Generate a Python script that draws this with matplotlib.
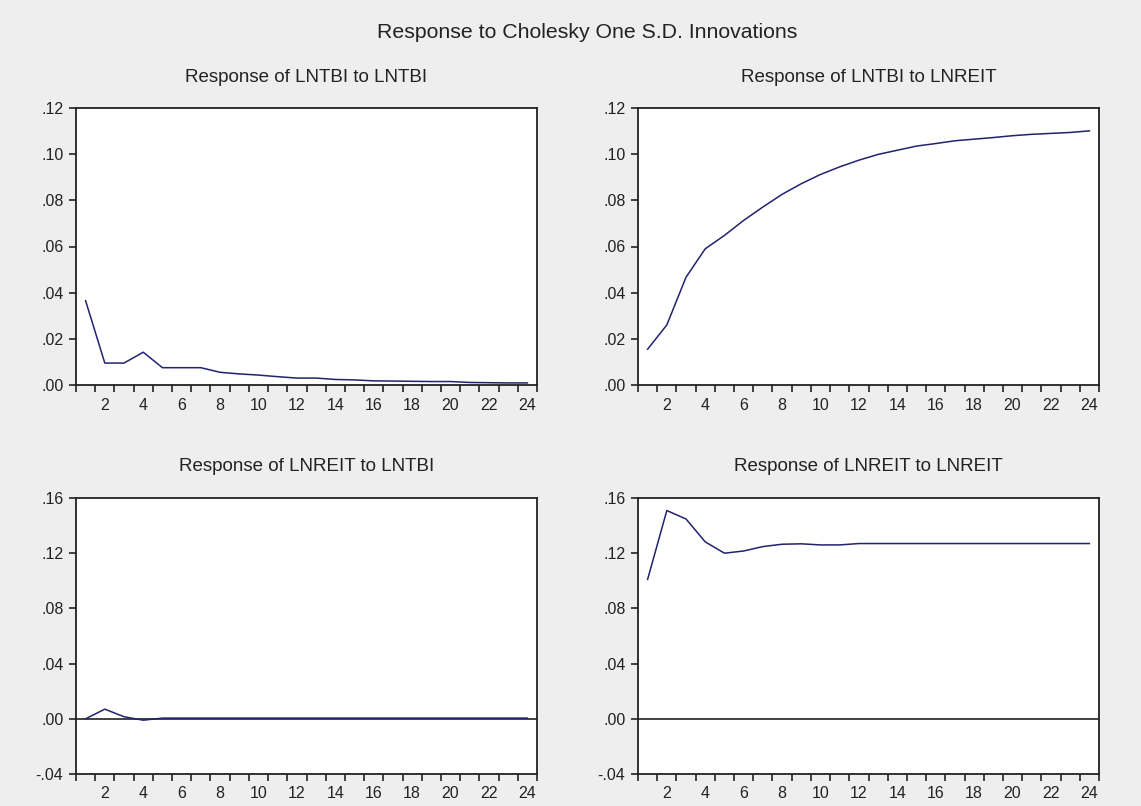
import matplotlib
matplotlib.use("Agg")
import matplotlib.pyplot as plt
from matplotlib.ticker import FixedLocator, FuncFormatter

plt.rcParams['font.family'] = ['Liberation Sans', 'DejaVu Sans']

periods = list(range(1, 25))

# responses
tbi_to_tbi = [0.0365, 0.0095, 0.0095, 0.0142, 0.0075, 0.0075, 0.0075, 0.0055,
              0.0048, 0.0043, 0.0036, 0.0030, 0.0030, 0.0024, 0.0022, 0.0018,
              0.0017, 0.0016, 0.0015, 0.0015, 0.0011, 0.0010, 0.0009, 0.0009]
tbi_to_reit = [0.0155, 0.0260, 0.0467, 0.0590, 0.0648, 0.0713, 0.0771, 0.0826,
               0.0872, 0.0912, 0.0945, 0.0974, 0.0999, 0.1017, 0.1035, 0.1046,
               0.1058, 0.1065, 0.1072, 0.1080, 0.1086, 0.1090, 0.1094, 0.1101]
reit_to_tbi = [0.0000, 0.0070, 0.0015, -0.0010, 0.0005, 0.0005, 0.0005, 0.0005,
               0.0005, 0.0005, 0.0005, 0.0005, 0.0005, 0.0005, 0.0005, 0.0005,
               0.0005, 0.0005, 0.0005, 0.0005, 0.0005, 0.0005, 0.0005, 0.0005]
reit_to_reit = [0.1010, 0.1509, 0.1448, 0.1282, 0.1200, 0.1216, 0.1248, 0.1265,
                0.1268, 0.1260, 0.1260, 0.1270, 0.1270, 0.1270, 0.1270, 0.1270,
                0.1270, 0.1270, 0.1270, 0.1270, 0.1270, 0.1270, 0.1270, 0.1270]

titles = ["Response of LNTBI to LNTBI", "Response of LNTBI to LNREIT",
          "Response of LNREIT to LNTBI", "Response of LNREIT to LNREIT"]
series = [tbi_to_tbi, tbi_to_reit, reit_to_tbi, reit_to_reit]
ylims = [(0, 0.12), (0, 0.12), (-0.04, 0.16), (-0.04, 0.16)]
yticks = [[0, 0.02, 0.04, 0.06, 0.08, 0.10, 0.12],
          [0, 0.02, 0.04, 0.06, 0.08, 0.10, 0.12],
          [-0.04, 0, 0.04, 0.08, 0.12, 0.16],
          [-0.04, 0, 0.04, 0.08, 0.12, 0.16]]
xlabels = list(range(2, 25, 2))

W, H = 1141, 806
fig = plt.figure(figsize=(W / 100, H / 100), dpi=100, facecolor='#eeeeee')

# pixel boxes of the four panels: left, right, top, bottom
boxes = [(76, 537, 108, 385), (638, 1099, 108, 385),
         (76, 537, 498, 774), (638, 1099, 498, 774)]

def dot_fmt(v, pos):
    s = f"{v:.2f}"
    return s.replace("0.", ".")

line_col = '#22226e'

for k in range(4):
    l, r, t, b = boxes[k]
    ax = fig.add_axes([l / W, 1 - b / H, (r - l) / W, (b - t) / H])
    ax.set_facecolor('white')
    lo, hi = ylims[k]
    if lo < 0:
        ax.axhline(0, color='#333333', lw=1.3, zorder=1)
    ax.plot(periods, series[k], color=line_col, lw=1.1, zorder=2)
    ax.set_xlim(0.5, 24.5)
    ax.set_ylim(lo, hi)
    ax.xaxis.set_major_locator(FixedLocator(xlabels))
    ax.xaxis.set_minor_locator(FixedLocator([i + 0.5 for i in range(25)]))
    ax.tick_params(axis='x', which='major', length=0, pad=9, labelsize=11.5, colors='#222222')
    ax.tick_params(axis='x', which='minor', length=5, width=1.2, direction='out', color='#222222')
    ax.yaxis.set_major_locator(FixedLocator(yticks[k]))
    ax.yaxis.set_major_formatter(FuncFormatter(dot_fmt))
    ax.tick_params(axis='y', length=5, width=1.2, direction='out', pad=4, labelsize=11.5, colors='#222222')
    for sp in ax.spines.values():
        sp.set_color('#222222')
        sp.set_linewidth(1.3)
    ax.text(0.5, 1 + 31 / (b - t), titles[k], transform=ax.transAxes,
            ha='center', va='center', fontsize=13.5, color='#222222')

fig.text(587 / W, 1 - 33 / H, "Response to Cholesky One S.D. Innovations",
         ha='center', va='center', fontsize=15.3, color='#222222')

fig.savefig('out.png', dpi=100, facecolor=fig.get_facecolor())
